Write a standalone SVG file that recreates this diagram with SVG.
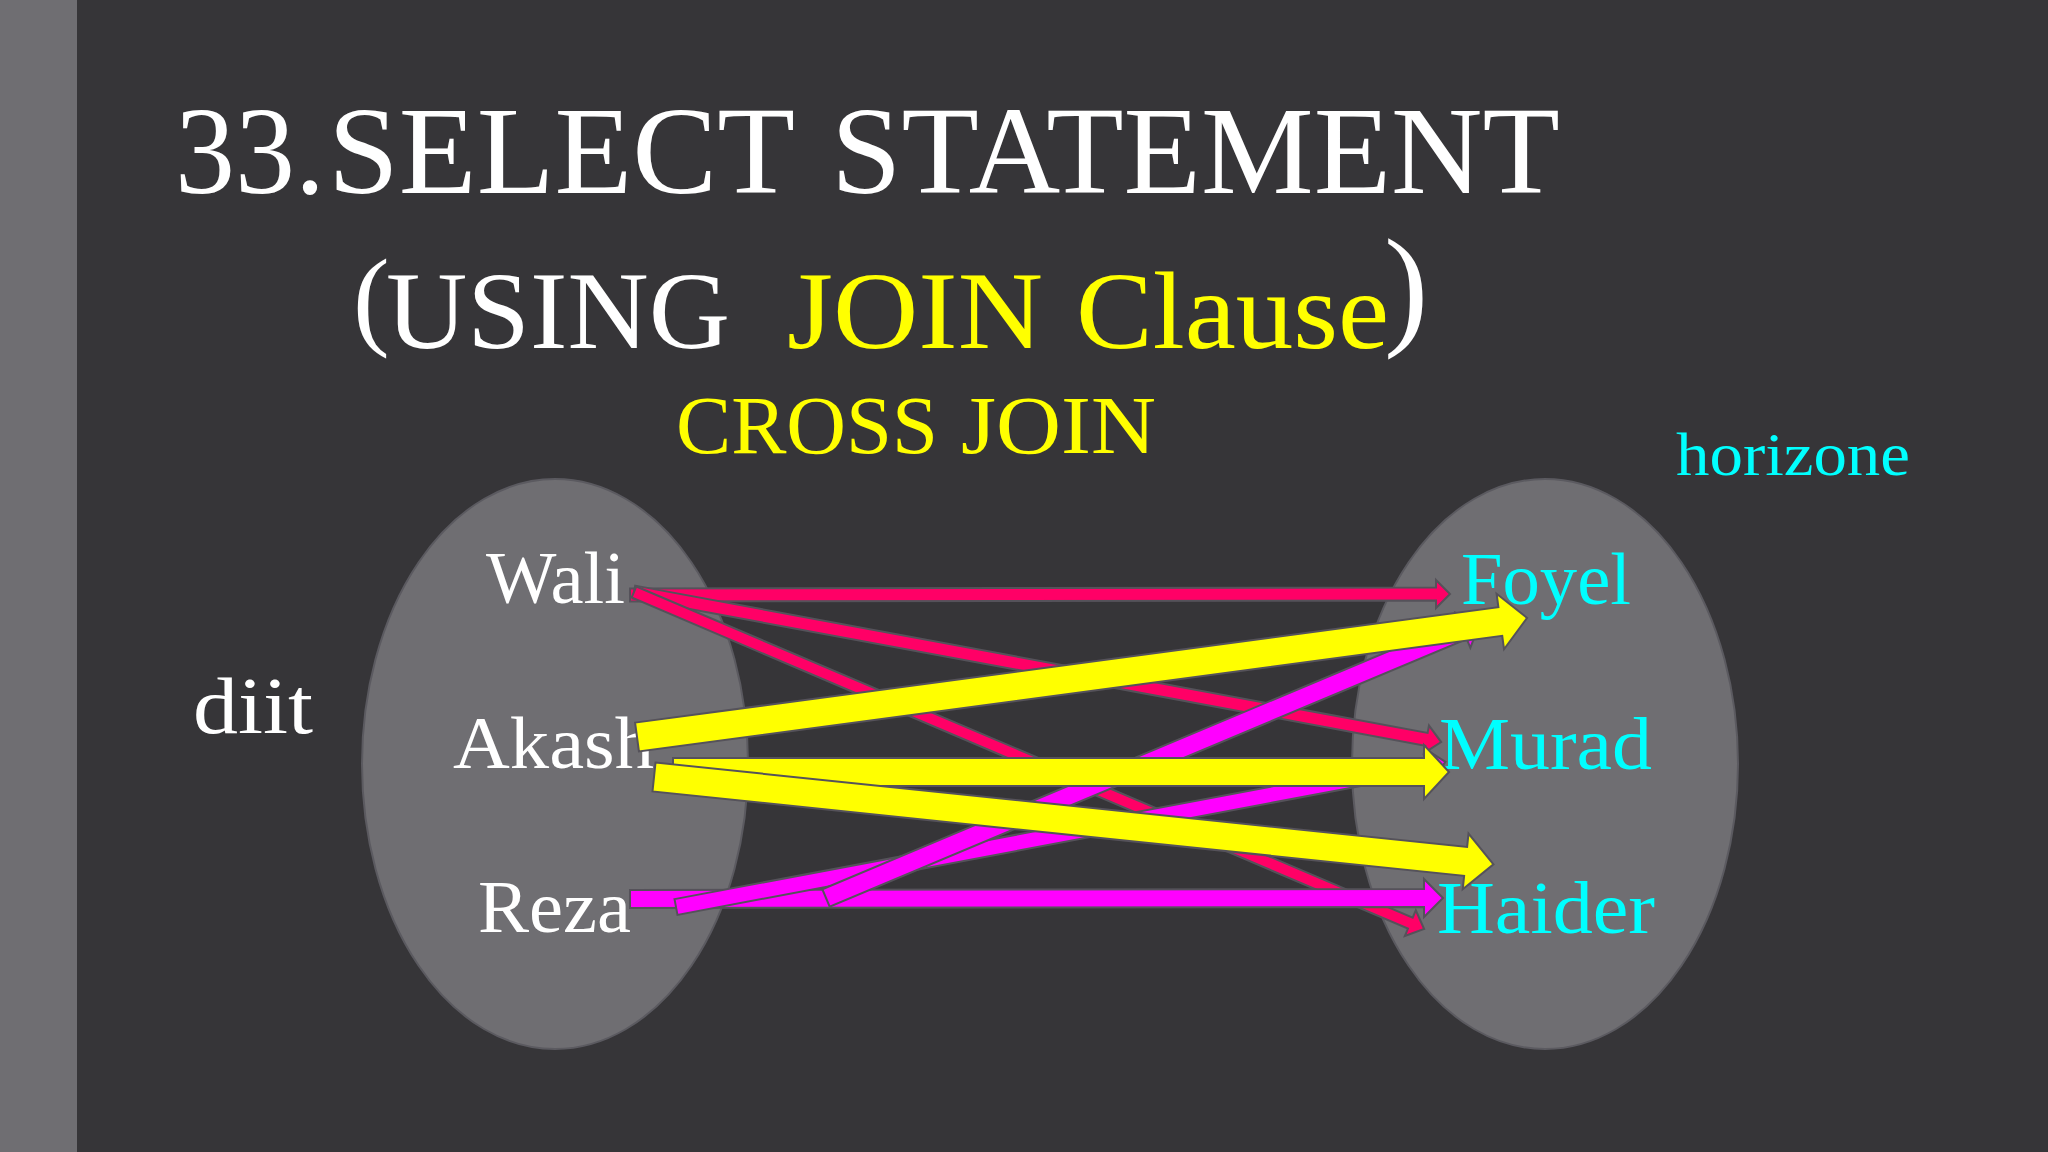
<svg xmlns="http://www.w3.org/2000/svg" width="2048" height="1152" viewBox="0 0 2048 1152">
<style>
text{font-family:"Liberation Serif","Times New Roman",serif}
.w{fill:#fff}.y{fill:#ff0}.c{fill:#0ff}
.blob{fill:#6f6e72;stroke:#5b5a60;stroke-width:2}
.a{stroke:#55525a;stroke-width:2;stroke-linejoin:miter}
.r{fill:#ff0066}.m{fill:#ff00ff}.l{fill:#ffff00}
.n{font-size:74px}
</style>
<rect width="2048" height="1152" fill="#363538"/>
<rect width="77" height="1152" fill="#6f6e72"/>
<g id="title">
<text class="w" x="175" y="193" font-size="124" textLength="150" lengthAdjust="spacingAndGlyphs">33.</text>
<text class="w" x="328" y="193" font-size="124" textLength="467" lengthAdjust="spacingAndGlyphs">SELECT</text>
<text class="w" x="831" y="193" font-size="124" textLength="729" lengthAdjust="spacingAndGlyphs">STATEMENT</text>
<text class="w" x="353" y="335" font-size="110">(</text>
<text class="w" x="386" y="348" font-size="110" textLength="344" lengthAdjust="spacingAndGlyphs">USING</text>
<text class="y" x="787" y="348" font-size="110" textLength="256" lengthAdjust="spacingAndGlyphs">JOIN</text>
<text class="y" x="1076" y="348" font-size="110" textLength="313" lengthAdjust="spacingAndGlyphs">Clause</text>
<text class="w" x="1384" y="331" font-size="133">)</text>
<text class="y" x="676" y="453" font-size="82" textLength="262" lengthAdjust="spacingAndGlyphs">CROSS</text>
<text class="y" x="961" y="453" font-size="82" textLength="195" lengthAdjust="spacingAndGlyphs">JOIN</text>
</g>
<g id="table-diit">
<text class="w" x="193" y="733" font-size="80" textLength="120" lengthAdjust="spacingAndGlyphs">diit</text>
<ellipse class="blob" cx="555" cy="764" rx="193" ry="285"/>
</g>
<g id="table-horizone">
<text class="c" x="1676" y="475" font-size="62" textLength="234" lengthAdjust="spacingAndGlyphs">horizone</text>
<ellipse class="blob" cx="1545" cy="764" rx="193" ry="285"/>
</g>
<g id="node-wali"><text class="w n" x="486" y="603" textLength="139" lengthAdjust="spacingAndGlyphs">Wali</text></g>
<g id="node-akash"><text class="w n" x="453" y="768" textLength="201" lengthAdjust="spacingAndGlyphs">Akash</text></g>
<g id="node-reza"><text class="w n" x="478" y="932" textLength="153" lengthAdjust="spacingAndGlyphs">Reza</text></g>
<g id="node-foyel"><text class="c n" x="1461" y="604" textLength="170" lengthAdjust="spacingAndGlyphs">Foyel</text></g>
<g id="node-murad"><text class="c n" x="1439" y="769" textLength="213" lengthAdjust="spacingAndGlyphs">Murad</text></g>
<g id="node-haider"><text class="c n" x="1437" y="933" textLength="218" lengthAdjust="spacingAndGlyphs">Haider</text></g>
<g id="connectors">
<path class="a r" transform="translate(630 595) rotate(-0.07)" d="M0-6.500H806V-14L820 0L806 14V6.500H0Z"/>
<path class="a r" transform="translate(634 592) rotate(10.53)" d="M0-6.500H806V-14L821 0L806 14V6.500H0Z"/>
<path class="a r" transform="translate(634 592) rotate(23.1)" d="M0-6H844V-14L859 0L844 14V6H0Z"/>
<path class="a m" transform="translate(630 899) rotate(-0.07)" d="M0-9H794V-19L813 0L794 19V9H0Z"/>
<path class="a m" transform="translate(676 907) rotate(-10.68)" d="M0-8H765V-17L783 0L765 17V8H0Z"/>
<path class="a m" transform="translate(826 898) rotate(-22.8)" d="M0-9.500H691V-19L709 0L691 19V9.500H0Z"/>
<path class="a l" transform="translate(673 772)" d="M0-14H751V-27L776 0L751 27V14H0Z"/>
<path class="a l" transform="translate(637 737) rotate(-7.62)" d="M0-14.500H871V-28L898 0L871 28V14.500H0Z"/>
<path class="a l" transform="translate(654 777) rotate(5.94)" d="M0-14.500H816V-28L844 0L816 28V14.500H0Z"/>
</g>
</svg>
